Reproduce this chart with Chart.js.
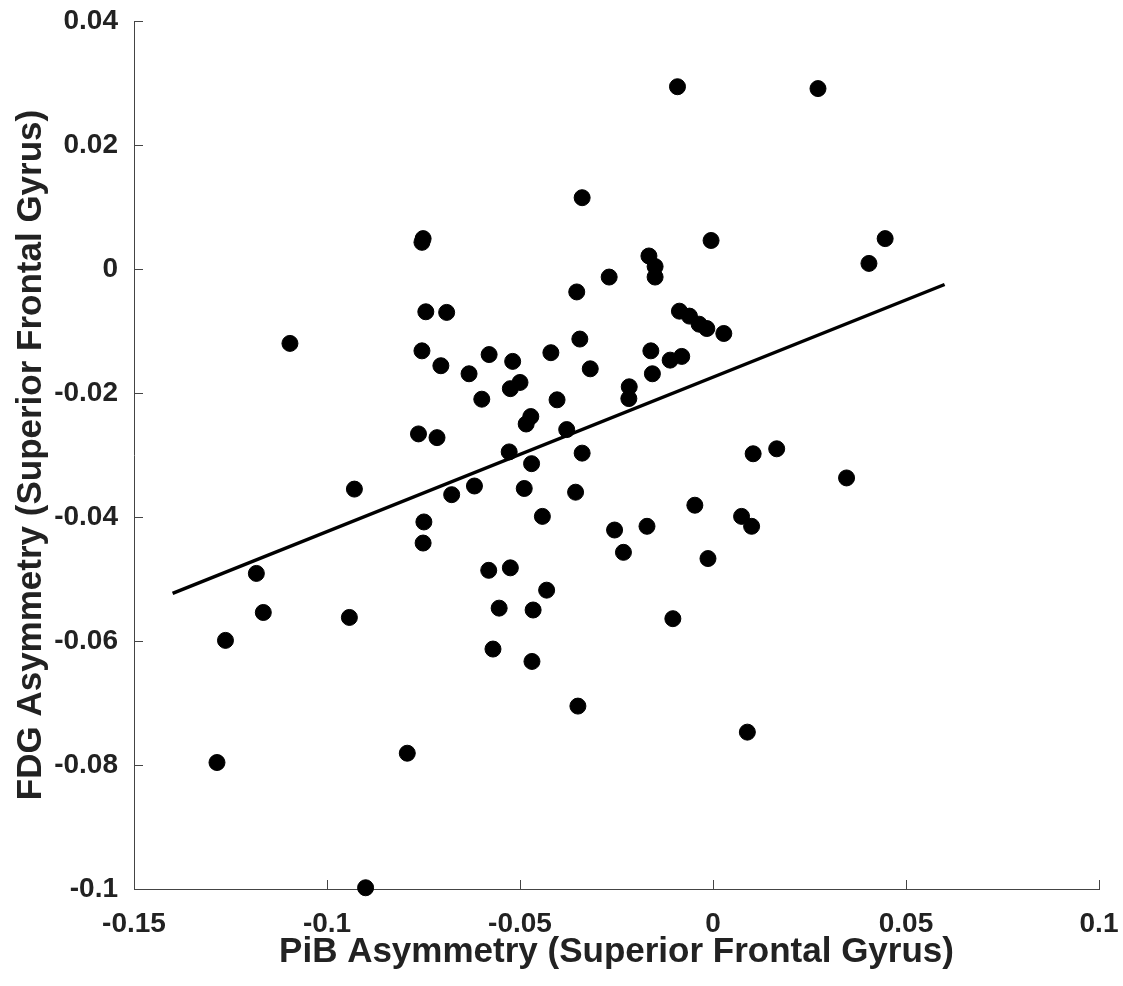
<!DOCTYPE html>
<html>
<head>
<meta charset="utf-8">
<script src="https://cdn.jsdelivr.net/npm/chart.js@4.4.1/dist/chart.umd.min.js"></script>
<style>
    html, body { margin: 0; padding: 0; background: #fff; }
    #scatter { display: block; }
</style>
</head>
<body>
<canvas id="scatter" width="1123" height="986"></canvas>
<script>
// PiB vs FDG asymmetry
const pibAsym = [
    -0.0339, -0.0751, -0.0754, -0.0269, -0.0353, -0.0744, -0.0690, -0.1096, -0.0345, -0.0754,
    -0.0580, -0.0420, -0.0519, -0.0705, -0.0318, -0.0632, -0.0500, -0.0525, -0.0599, -0.0404,
    -0.0217, -0.0218, -0.0472, -0.0484, -0.0379, -0.0763, -0.0715, -0.0528, -0.0339, -0.0470,
    -0.0929, -0.0618, -0.0677, -0.0489, -0.0356, -0.0442, -0.0749, -0.0751, -0.0255, -0.0232,
    -0.1183, -0.0581, -0.0525, -0.0431, -0.1165, -0.0554, -0.0466, -0.0942, -0.1263, -0.0570,
    -0.0469, -0.0350, -0.0792, -0.1285, -0.0900, -0.0092, 0.0272, -0.0005, 0.0446, 0.0404,
    -0.0166, -0.0150, -0.0150, -0.0087, -0.0061, -0.0036, -0.0016, 0.0028, -0.0161, -0.0081,
    -0.0111, -0.0157, 0.0104, 0.0165, 0.0346, -0.0047, -0.0171, 0.0074, 0.0100, -0.0013,
    -0.0104, 0.0089
];
const fdgAsym = [
    0.0115, 0.0049, 0.0043, -0.0013, -0.0037, -0.0069, -0.0070, -0.0120, -0.0113, -0.0132,
    -0.0138, -0.0135, -0.0149, -0.0156, -0.0161, -0.0169, -0.0183, -0.0193, -0.0210, -0.0211,
    -0.0190, -0.0209, -0.0238, -0.0250, -0.0259, -0.0266, -0.0272, -0.0295, -0.0297, -0.0314,
    -0.0355, -0.0350, -0.0364, -0.0354, -0.0360, -0.0399, -0.0408, -0.0442, -0.0421, -0.0457,
    -0.0491, -0.0486, -0.0482, -0.0518, -0.0554, -0.0547, -0.0550, -0.0562, -0.0599, -0.0613,
    -0.0633, -0.0705, -0.0781, -0.0796, -0.0998, 0.0294, 0.0291, 0.0046, 0.0049, 0.0009,
    0.0021, 0.0004, -0.0013, -0.0068, -0.0076, -0.0089, -0.0096, -0.0104, -0.0132, -0.0141,
    -0.0147, -0.0169, -0.0298, -0.0290, -0.0337, -0.0381, -0.0415, -0.0399, -0.0415, -0.0467,
    -0.0564, -0.0747
];

// least squares line end points as drawn in the figure
const fitX = [-0.14, 0.06];
const fitY = [-0.0523, -0.0025];

const xTicks = [-0.15, -0.1, -0.05, 0, 0.05, 0.1];
const yTicks = [0.04, 0.02, 0, -0.02, -0.04, -0.06, -0.08, -0.1];

const axisColor = '#444';
const textColor = '#222';
const fontFamily = '"Liberation Sans", Arial, Helvetica, sans-serif';

// MATLAB style ticks pointing into the plot
const innerTicks = {
    id: 'innerTicks',
    afterDatasetsDraw(chart) {
        const { ctx, chartArea, scales } = chart;
        const len = 9;
        ctx.save();
        ctx.strokeStyle = axisColor;
        ctx.lineWidth = 1;
        ctx.beginPath();
        scales.x.ticks.forEach(t => {
            const px = Math.round(scales.x.getPixelForValue(t.value)) + 0.5;
            ctx.moveTo(px, chartArea.bottom);
            ctx.lineTo(px, chartArea.bottom - len);
        });
        scales.y.ticks.forEach(t => {
            const py = Math.round(scales.y.getPixelForValue(t.value)) + 0.5;
            ctx.moveTo(chartArea.left, py);
            ctx.lineTo(chartArea.left + len, py);
        });
        ctx.stroke();
        ctx.restore();
    }
};

const fmt = v => String(Number(v.toFixed(2)));

// keep the plot box where the figure has it, labels may overhang
const noLabelPadding = s => {
    s.paddingLeft = 0;
    s.paddingRight = 0;
    s.paddingTop = 0;
    s.paddingBottom = 0;
};

new Chart(document.getElementById('scatter'), {
    type: 'scatter',
    data: {
        datasets: [{
            label: 'Subjects',
            data: pibAsym.map((x, i) => ({ x: x, y: fdgAsym[i] })),
            backgroundColor: '#000',
            borderColor: '#000',
            pointRadius: 8,
            pointHoverRadius: 8,
            clip: false,
            order: 2
        }, {
            type: 'line',
            label: 'Fit',
            data: fitX.map((x, i) => ({ x: x, y: fitY[i] })),
            borderColor: '#000',
            borderWidth: 3.5,
            pointRadius: 0,
            fill: false,
            order: 1
        }]
    },
    options: {
        responsive: false,
        animation: false,
        devicePixelRatio: 1,
        layout: { padding: { top: 21, right: 24, left: 0, bottom: 0 } },
        plugins: {
            legend: { display: false },
            tooltip: { enabled: false }
        },
        scales: {
            x: {
                type: 'linear',
                min: -0.15,
                max: 0.1,
                afterBuildTicks: s => { s.ticks = xTicks.map(v => ({ value: v })); },
                afterFit: s => { s.height = 97; noLabelPadding(s); },
                grid: { display: false, drawTicks: false },
                border: { display: true, color: axisColor, width: 1 },
                ticks: {
                    padding: 18,
                    color: textColor,
                    font: { family: fontFamily, size: 28, weight: 'bold' },
                    callback: v => fmt(v),
                    maxRotation: 0
                },
                title: {
                    display: true,
                    text: 'PiB Asymmetry (Superior Frontal Gyrus)',
                    color: textColor,
                    font: { family: fontFamily, size: 35, weight: 'bold' },
                    padding: { top: 0, bottom: 13 }
                }
            },
            y: {
                type: 'linear',
                min: -0.1,
                max: 0.04,
                afterBuildTicks: s => { s.ticks = yTicks.map(v => ({ value: v })); },
                afterFit: s => { s.width = 134; noLabelPadding(s); },
                grid: { display: false, drawTicks: false },
                border: { display: true, color: axisColor, width: 1 },
                ticks: {
                    padding: 16,
                    color: textColor,
                    font: { family: fontFamily, size: 28, weight: 'bold' },
                    callback: v => fmt(v)
                },
                title: {
                    display: true,
                    text: 'FDG Asymmetry (Superior Frontal Gyrus)',
                    color: textColor,
                    font: { family: fontFamily, size: 35, weight: 'bold' },
                    padding: { top: 10, bottom: 0 }
                }
            }
        }
    },
    plugins: [innerTicks]
});
</script>
</body>
</html>
